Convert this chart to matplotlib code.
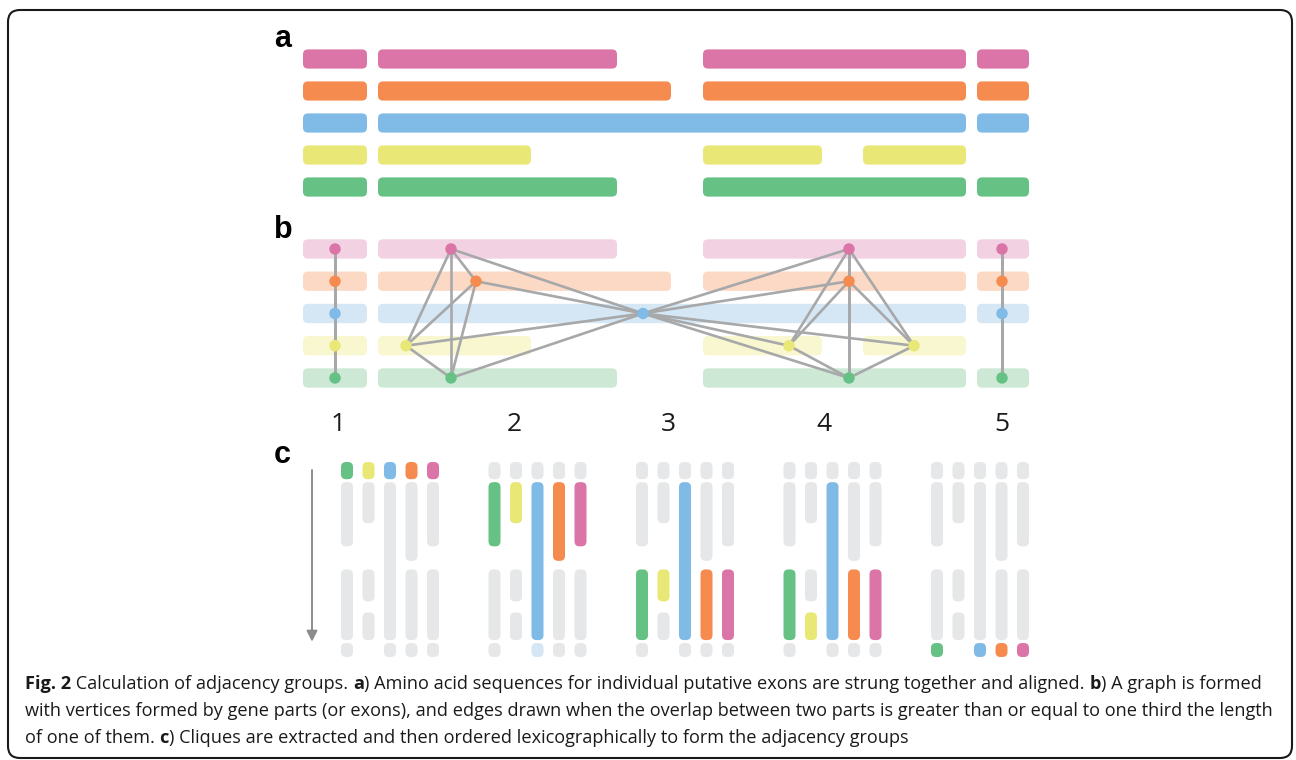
import matplotlib

matplotlib.use("Agg")
import matplotlib.pyplot as plt
from itertools import combinations
from matplotlib import font_manager
from matplotlib.patches import FancyBboxPatch

FIG_W, FIG_H, DPI = 1296, 760, 100

# exon tracks, top to bottom in panels a and b
TRACKS = ["pink", "orange", "blue", "yellow", "green"]
TRACK_COLORS = ["#db75a7", "#f68b4f", "#80bae6", "#e9e877", "#66c185"]
FADED_COLORS = ["#f2d1e2", "#fcd9c5", "#d5e7f5", "#f8f7d0", "#cde9d6"]
GREY_CELL = "#e6e7e8"
EDGE_GREY = "#a7a8aa"

ALIGN_LEN = 726

# aligned putative exons (start, end) per track, in alignment columns
SEGMENTS = {
    "pink": [(0, 64), (75, 314), (400, 663), (674, 726)],
    "orange": [(0, 64), (75, 368), (400, 663), (674, 726)],
    "blue": [(0, 64), (75, 663), (674, 726)],
    "yellow": [(0, 64), (75, 228), (400, 519), (560, 663)],
    "green": [(0, 64), (75, 314), (400, 663), (674, 726)],
}

# where each exon's vertex sits in the graph layout (alignment columns)
NODE_X = {
    "pink": [32, 148, 546, 699],
    "orange": [32, 173, 546, 699],
    "blue": [32, 340, 699],
    "yellow": [32, 103, 486, 611],
    "green": [32, 148, 546, 699],
}

GROUP_LABELS = ["1", "2", "3", "4", "5"]
GROUP_LABEL_X = [35, 211, 365, 521, 699]

# adjacency groups: which exon of each track belongs to each clique
C_COLUMNS = ["green", "yellow", "blue", "orange", "pink"]
CLIQUES = {
    "pink": [0, 1, 2, 2, 3],
    "orange": [0, 1, 2, 2, 3],
    "blue": [0, 1, 1, 1, 2],
    "yellow": [0, 1, 2, 3, None],
    "green": [0, 1, 2, 2, 3],
}
# (group, track, exon) cells shown in the pale tint
PALE_CELLS = [(1, "blue", 2)]

CAPTION_LINES = [
    [("Fig. 2", True), (" Calculation of adjacency groups. ", False), ("a", True),
     (") Amino acid sequences for individual putative exons are strung together and aligned. ", False),
     ("b", True), (") A graph is formed", False)],
    [("with vertices formed by gene parts (or exons), and edges drawn when the overlap between "
      "two parts is greater than or equal to one third the length", False)],
    [("of one of them. ", False), ("c", True),
     (") Cliques are extracted and then ordered lexicographically to form the adjacency groups", False)],
]

available = {f.name for f in font_manager.fontManager.ttflist}
TEXT_FONT = next((f for f in ["Liberation Sans Narrow", "Open Sans", "Noto Sans"] if f in available),
                 "DejaVu Sans")
LETTER_FONT = "Liberation Sans" if "Liberation Sans" in available else "DejaVu Sans"


def px_scale(ax):
    (x0, y0), (x1, y1) = ax.transData.transform([(0, 0), (1, 1)])
    return abs(x1 - x0), abs(y1 - y0)


def rounded_box(ax, x, y, w, h, color, radius_px, **kw):
    sx, sy = px_scale(ax)
    ax.add_patch(FancyBboxPatch(
        (x, y), w, h, boxstyle=f"round,pad=0,rounding_size={radius_px / sx}",
        mutation_aspect=sx / sy, fc=color, ec="none", lw=0, **kw))


def overlaps(a, b):
    (s1, e1), (s2, e2) = a, b
    ov = min(e1, e2) - max(s1, s2)
    return ov > 0 and ov >= min(e1 - s1, e2 - s2) / 3


fig = plt.figure(figsize=(FIG_W / DPI, FIG_H / DPI), dpi=DPI)

# page layer: frame, panel letters, caption (pixel coordinates)
bg = fig.add_axes([0, 0, 1, 1])
bg.set_xlim(0, FIG_W)
bg.set_ylim(FIG_H, 0)
bg.axis("off")
bg.add_patch(FancyBboxPatch((8, 10), 1284, 748, boxstyle="round,pad=0,rounding_size=12",
                            fc="none", ec="#1a1a1a", lw=1.5))
for letter, (lx, ly) in zip("abc", [(274, 47), (274, 238), (274, 463)]):
    bg.text(lx, ly, letter, fontsize=22, fontweight="bold", family=LETTER_FONT,
            va="baseline", ha="left")

# panel a: aligned exons
ax_a = fig.add_axes([303 / FIG_W, 1 - 203 / FIG_H, 726 / FIG_W, 160 / FIG_H])
ax_a.set_xlim(0, ALIGN_LEN)
ax_a.set_ylim(4.5, -0.5)
ax_a.axis("off")
for row, (track, color) in enumerate(zip(TRACKS, TRACK_COLORS)):
    for s, e in SEGMENTS[track]:
        rounded_box(ax_a, s, row - 0.3, e - s, 0.6, color, 5)

# panel b: overlap graph
ax_b = fig.add_axes([303 / FIG_W, 1 - 394.1 / FIG_H, 726 / FIG_W, 161.25 / FIG_H])
ax_b.set_xlim(0, ALIGN_LEN)
ax_b.set_ylim(4.5, -0.5)
ax_b.axis("off")
nodes = []
for row, (track, faded) in enumerate(zip(TRACKS, FADED_COLORS)):
    for k, (s, e) in enumerate(SEGMENTS[track]):
        rounded_box(ax_b, s, row - 0.3, e - s, 0.6, faded, 5)
        nodes.append((row, NODE_X[track][k], (s, e)))
for (r1, x1, seg1), (r2, x2, seg2) in combinations(nodes, 2):
    if r1 != r2 and overlaps(seg1, seg2):
        ax_b.plot([x1, x2], [r1, r2], color=EDGE_GREY, lw=1.9, solid_capstyle="round", zorder=3)
ax_b.scatter([n[1] for n in nodes], [n[0] for n in nodes], s=68,
             c=[TRACK_COLORS[n[0]] for n in nodes], edgecolors="none", zorder=4)
for label, lx in zip(GROUP_LABELS, GROUP_LABEL_X):
    ax_b.text(lx, 5.43, label, fontsize=19, family=TEXT_FONT, ha="center", va="center",
              color="#1a1a1a")

# panel c: cliques ordered into adjacency groups
GROUP_PX, COL_PX, COL_W_PX = 147.5, 21.5, 12
ax_c = fig.add_axes([300 / FIG_W, 1 - 657 / FIG_H, 740 / FIG_W, 195 / FIG_H])
ax_c.set_xlim(-90 / GROUP_PX, 650 / GROUP_PX)
ax_c.set_ylim(ALIGN_LEN, 0)
ax_c.axis("off")
col_w = COL_W_PX / GROUP_PX
for g in range(len(GROUP_LABELS)):
    for k, track in enumerate(C_COLUMNS):
        ti = TRACKS.index(track)
        x = g + (k - 2) * COL_PX / GROUP_PX
        for j, (s, e) in enumerate(SEGMENTS[track]):
            if (g, track, j) in PALE_CELLS:
                color = FADED_COLORS[ti]
            elif CLIQUES[track][g] == j:
                color = TRACK_COLORS[ti]
            else:
                color = GREY_CELL
            rounded_box(ax_c, x - col_w / 2, s, col_w, e - s, color, 5)
ax_c.annotate("", xy=(-78 / GROUP_PX, 669), xytext=(-78 / GROUP_PX, 30),
              arrowprops=dict(arrowstyle="-|>", color="#8c8c8c", lw=1.4,
                              mutation_scale=16, shrinkA=0, shrinkB=0))

# caption, built piece by piece so the bold parts sit inline
caption_pieces = []
line_starts = []
for i, line in enumerate(CAPTION_LINES):
    prev = None
    for text, bold in line:
        kw = dict(fontsize=13, family=TEXT_FONT, fontweight="bold" if bold else "normal",
                  color="#1a1a1a")
        if prev is None:
            t = bg.text(25, 689 + 27 * i, text, va="baseline", ha="left", **kw)
            line_starts.append(t)
        else:
            t = bg.annotate(text, xycoords=prev, xy=(1, 0), va="bottom", ha="left", **kw)
        caption_pieces.append(t)
        prev = t
    line_starts.append(prev)

fig.canvas.draw()
renderer = fig.canvas.get_renderer()
first, last = line_starts[2], line_starts[3]
width = last.get_window_extent(renderer).x1 - first.get_window_extent(renderer).x0
size = 13 * 1245 / width
for t in caption_pieces:
    t.set_fontsize(size)

fig.savefig("out.png", dpi=DPI)
